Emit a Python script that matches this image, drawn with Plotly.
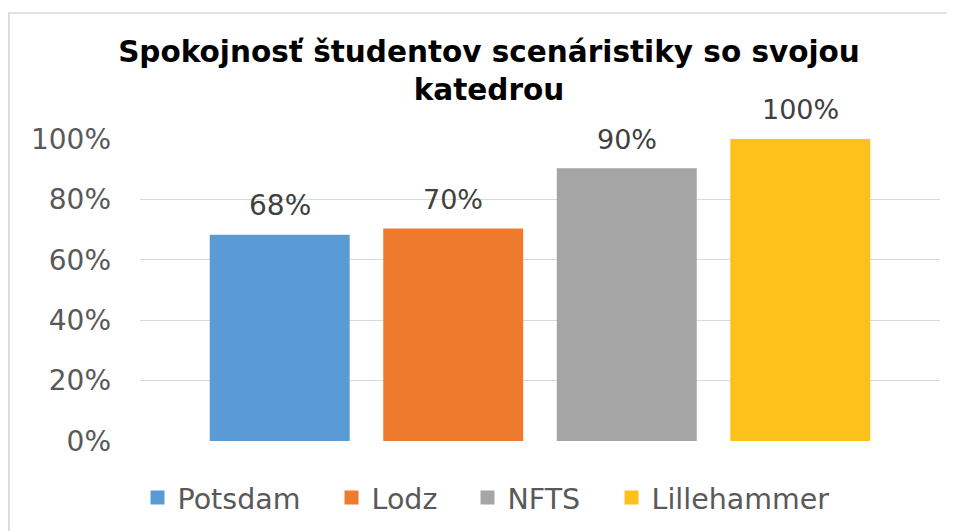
import plotly.graph_objects as go

# Data
series_names = ["Potsdam", "Lodz", "NFTS", "Lillehammer"]
values = [0.68, 0.70, 0.90, 1.00]
value_labels = ["68%", "70%", "90%", "100%"]
colors = ["#5b9bd5", "#ee7b2d", "#a5a5a5", "#fcc11a"]
legend_widths = [149, 91, 99, 185]
y_ticks = [0, 0.2, 0.4, 0.6, 0.8, 1.0]
y_tick_labels = ["0%", "20%", "40%", "60%", "80%", "100%"]
title_text = "Spokojnosť študentov scenáristiky so svojou<br>katedrou"

# Figure geometry (page body has an 8px margin)
W, H = 947, 523
L, R, T, B = 132, 15, 131, 90
PW, PH = W - L - R, H - T - B

fig = go.Figure()
for i, (name, v, c, lw) in enumerate(zip(series_names, values, colors, legend_widths)):
    fig.add_trace(go.Bar(
        x=[i], y=[v], name=name, width=0.795,
        marker=dict(color=c, line=dict(width=2, color=c)),
        legendwidth=lw,
        hoverinfo="skip",
    ))

label_sizes = [28, 27, 27, 27]
for i, (v, t, s) in enumerate(zip(values, value_labels, label_sizes)):
    fig.add_annotation(x=i, y=v, text=t, showarrow=False, yshift=30,
                       yanchor="middle",
                       font=dict(family="DejaVu Sans, Verdana, sans-serif", size=s, color="#404040"))

# Chart border (top and left visible)
fig.add_shape(type="rect", xref="paper", yref="paper",
              x0=(0.9 - L) / PW, x1=(W + 20 - L) / PW,
              y0=(PH + T - (H + 20)) / PH, y1=(PH + T - 5) / PH,
              line=dict(color="#d9d9d9", width=1.7), fillcolor="rgba(0,0,0,0)",
              layer="below")

fig.update_layout(
    width=W, height=H,
    margin=dict(l=L, r=R, t=T, b=B),
    paper_bgcolor="white", plot_bgcolor="white",
    barmode="overlay",
    title=dict(text=title_text, xref="container", x=481 / W, xanchor="center",
               yref="container", y=1 - 54 / H, yanchor="middle",
               font=dict(family="DejaVu Sans, Verdana, sans-serif",
                         size=29.5, color="#000000", weight="bold")),
    xaxis=dict(range=[-0.805, 3.805], showticklabels=False, showgrid=False,
               zeroline=False, showline=False, fixedrange=True),
    yaxis=dict(range=[0, 1.0], tickvals=y_ticks, ticktext=y_tick_labels,
               showgrid=True, gridcolor="#d9d9d9", gridwidth=1,
               zeroline=False, showline=False, ticks="",
               ticklabelstandoff=28,
               tickfont=dict(family="DejaVu Sans, Verdana, sans-serif", size=28, color="#595959")),
    legend=dict(orientation="h", xref="container", yref="container",
                x=129.5 / W, xanchor="left", y=1 - 490 / H, yanchor="middle",
                font=dict(family="DejaVu Sans, Verdana, sans-serif", size=28.5, color="#595959"),
                itemclick=False, itemdoubleclick=False),
    showlegend=True,
)

fig.write_html("out.html")
